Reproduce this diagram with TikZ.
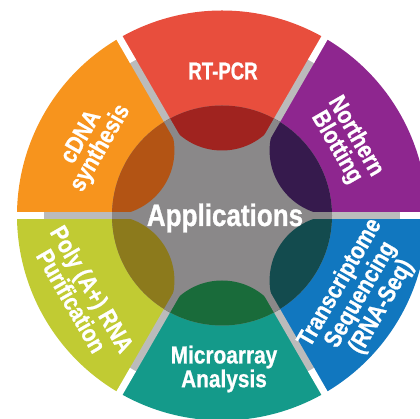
\documentclass[tikz,border=0pt]{standalone}
\usepackage{fontspec}
\usetikzlibrary{calc}
\newfontfamily\cf{Liberation Sans}[FakeStretch=0.85, UprightFont={* Bold}, FakeBold=0.8]
\newfontfamily\cfn{Liberation Sans}[FakeStretch=0.76, UprightFont={* Bold}, FakeBold=0.8]
\newfontfamily\cfa{Liberation Sans}[FakeStretch=0.84, UprightFont={* Bold}, FakeBold=1]
\definecolor{cRed}{HTML}{E84E3D}\definecolor{dRed}{HTML}{A0231F}
\definecolor{cPur}{HTML}{8E268F}\definecolor{dPur}{HTML}{361A4D}
\definecolor{cBlu}{HTML}{1177BF}\definecolor{dBlu}{HTML}{134B4E}
\definecolor{cTea}{HTML}{149A8A}\definecolor{dTea}{HTML}{196B3A}
\definecolor{cYel}{HTML}{C1CB33}\definecolor{dYel}{HTML}{8C7A1C}
\definecolor{cOra}{HTML}{F7941D}\definecolor{dOra}{HTML}{B35414}
\definecolor{gapGray}{HTML}{BBBBBB}
\definecolor{midGray}{HTML}{8A8889}
\tikzset{
  lbl/.style={text=white, font=\cf\fontsize{24.5}{22}\selectfont, align=center, inner sep=0pt},
  narrowlbl/.style={text=white, font=\cfn\fontsize{24.5}{22}\selectfont, align=center, inner sep=0pt},
  biglbl/.style={text=white, font=\cfa\fontsize{31}{31}\selectfont, inner sep=0pt},
}
\begin{document}
\begin{tikzpicture}[x=1pt,y=1pt]
\useasboundingbox (0,0) rectangle (420,419);
\fill[white] (0,0) rectangle (420,419);
\clip (0,0) rectangle (420,419);
\coordinate (C) at (222,203.5);
% sectors
\foreach \a/\c in {90/cRed,30/cPur,-30/cBlu,-90/cTea,210/cYel,150/cOra}{
  \fill[\c] (C) -- ++(\a-30:205pt) arc[start angle=\a-30, end angle=\a+30, radius=205pt] -- cycle;
}
% gaps
\foreach \a in {0,60,120,180,240,300}{
  \draw[gapGray, line width=7pt] (C) -- ++(\a:179pt);
  \draw[white, line width=7pt] ($(C)+(\a:178pt)$) -- ++(\a:40pt);
}
% central disk
\fill[midGray] (C) circle[radius=110pt];
\begin{scope}
  \clip (C) circle[radius=110pt];
  \foreach \a/\c in {90/dRed,30/dPur,-30/dBlu,-90/dTea,210/dYel,150/dOra}{
    \fill[\c] ($(C)+(\a:130pt)$) circle[radius=65pt];
  }
\end{scope}
\foreach \a in {0,60,120,180,240,300}{
  \draw[midGray, line width=7pt] (C) -- ++(\a:110pt);
}
% labels
\node[biglbl, anchor=base] (app) at (225,193) {Applications};
\node[narrowlbl] (rt) at (223,348) {RT-PCR};
\node[lbl, rotate=60] (cd) at (91.5,276) {cDNA\\synthesis};
\node[lbl, rotate=-60] (nb) at (346,277) {Northern\\Blotting};
\node[lbl, rotate=60] (ts) at (361,124) {Transcriptome\\Sequencing\\(RNA-Seq)};
\node[lbl, rotate=-60] (pa) at (82,124) {Poly (A+) RNA\\Purification};
\node[lbl] (ma) at (224,50) {Microarray\\Analysis};
\end{tikzpicture}
\end{document}
